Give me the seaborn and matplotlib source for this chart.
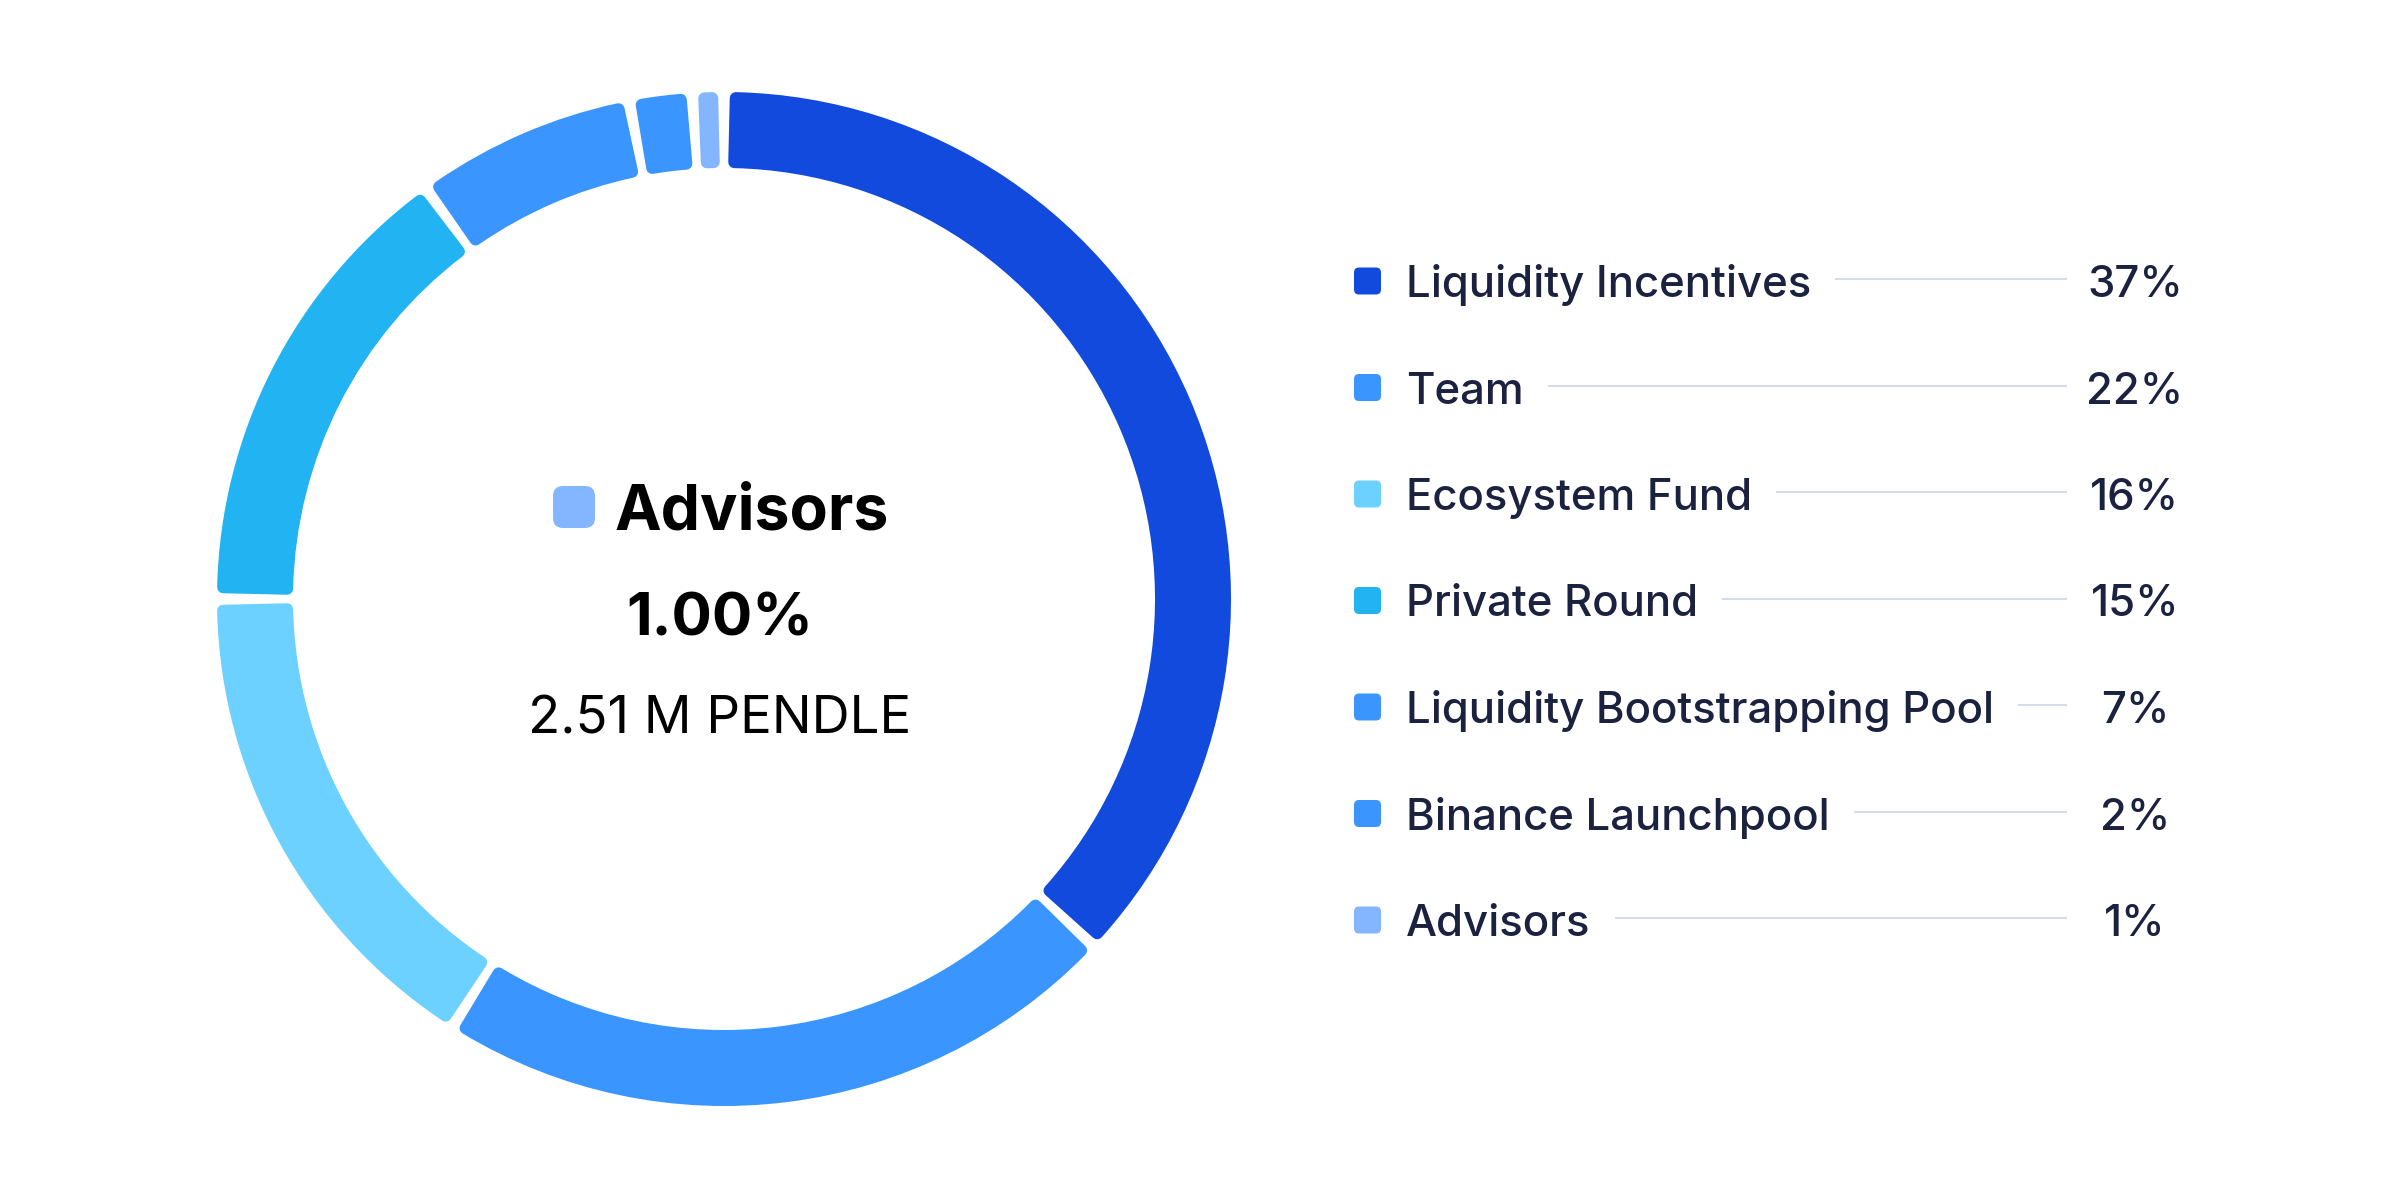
import matplotlib
matplotlib.use("Agg")
import matplotlib.pyplot as plt
import seaborn as sns
import numpy as np
from matplotlib.patches import FancyBboxPatch

categories = ["Liquidity Incentives", "Team", "Ecosystem Fund", "Private Round",
              "Liquidity Bootstrapping Pool", "Binance Launchpool", "Advisors"]
shares = [37, 22, 16, 15, 7, 2, 1]
pct_labels = ["37%", "22%", "16%", "15%", "7%", "2%", "1%"]
colors = ["#124ADE", "#3A95FF", "#6DD1FF", "#22B3F2", "#3A95FF", "#3A95FF", "#83B6FF"]
highlight = "Advisors"
highlight_pct = "1.00%"
highlight_amount = "2.51 M PENDLE"

sns.set_theme(style="white")
plt.rcParams['font.family'] = ['Inter', 'DejaVu Sans']

W, H = 2396, 1200
dpi = 100
fig = plt.figure(figsize=(W / dpi, H / dpi), dpi=dpi, facecolor='white')
ax = fig.add_axes([0, 0, 1, 1])
px = 72 / dpi

pal = sns.color_palette(colors)

# donut
cx, cy = 724, H - 599
R_out, R_in = 507, 431
r = 6
gap = 10
wedges, _ = ax.pie(shares, colors=pal, startangle=90, counterclock=False,
                   center=(cx, cy), radius=R_out - r,
                   wedgeprops=dict(width=R_out - R_in - 2 * r))
rmid = (R_out + R_in) / 2
delta = np.degrees(np.arcsin((gap / 2 + r) / rmid))
for w, c in zip(wedges, pal):
    w.set_theta1(w.theta1 + delta)
    w.set_theta2(w.theta2 - delta)
    w.set_edgecolor(c)
    w.set_linewidth(2 * r * px)
    w.set_joinstyle('round')

ax.set_xlim(0, W)
ax.set_ylim(0, H)
ax.set_aspect('equal')
ax.axis('off')

# legend
text_color = "#1B2240"
y0, step = 281, 106.5
sq = 27
labels = []
for i, (cat, pct, c) in enumerate(zip(categories, pct_labels, pal)):
    y = H - (y0 + i * step)
    ax.add_patch(FancyBboxPatch((1354, y - sq / 2), sq, sq,
                                boxstyle="round,pad=0,rounding_size=5",
                                fc=c, ec='none'))
    t = ax.text(1406, y, cat, fontsize=31.5, fontweight='medium', color=text_color,
                va='center_baseline', ha='left')
    labels.append((t, y))
    ax.text(2135, y, pct, fontsize=31.5, fontweight='medium', color=text_color,
            va='center_baseline', ha='center')

fig.canvas.draw()
rend = fig.canvas.get_renderer()
for t, y in labels:
    bb = t.get_window_extent(rend)
    ax.plot([bb.x1 + 24, 2067], [y + 2, y + 2], color="#D3DCEA", lw=2 * px,
            solid_capstyle='butt')

# center text
hc = pal[categories.index(highlight)]
ax.add_patch(FancyBboxPatch((553, H - 507 - 21), 42, 42,
                            boxstyle="round,pad=0,rounding_size=10", fc=hc, ec='none'))
ax.text(614, H - 507, highlight, fontsize=45, fontweight='bold', color='black',
        va='center_baseline', ha='left')
ax.text(720, H - 614, highlight_pct, fontsize=43, fontweight='bold', color='black',
        va='center_baseline', ha='center')
ax.text(720, H - 714, highlight_amount, fontsize=38, color='black',
        va='center_baseline', ha='center')

fig.savefig("out.png", dpi=dpi, facecolor='white')
